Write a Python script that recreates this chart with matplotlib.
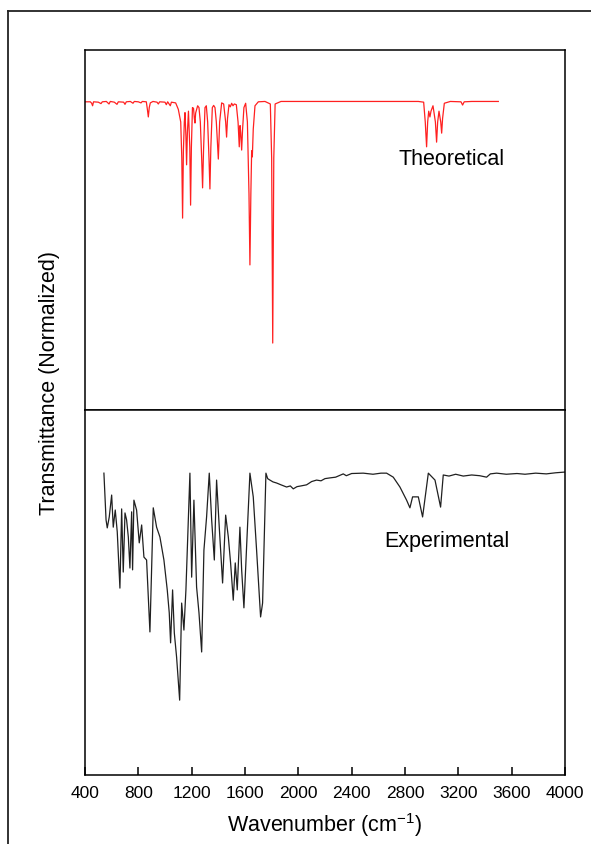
import matplotlib.pyplot as plt
from matplotlib.lines import Line2D

plt.rcParams['font.family'] = ['Liberation Sans', 'DejaVu Sans']

# Theoretical spectrum (wavenumber, normalized transmittance)
wn_theo = [400, 440, 450, 457, 464, 500, 520, 530, 560, 580, 590, 620, 640, 650,
           690, 700, 710, 740, 760, 770, 800, 820, 830, 860, 868, 875, 882, 890,
           910, 940, 950, 960, 1000, 1010, 1020, 1040, 1048, 1080, 1100, 1118,
           1126, 1132, 1138, 1145, 1150, 1157, 1162, 1168, 1176, 1186, 1192,
           1198, 1206, 1214, 1220, 1225, 1230, 1245, 1255, 1265, 1275, 1282,
           1289, 1300, 1310, 1320, 1330, 1337, 1344, 1355, 1365, 1375, 1385,
           1400, 1410, 1425, 1440, 1455, 1462, 1469, 1480, 1490, 1500, 1510,
           1520, 1535, 1548, 1557, 1563, 1568, 1575, 1582, 1592, 1605, 1618,
           1630, 1637, 1644, 1650, 1655, 1662, 1675, 1700, 1750, 1790, 1800,
           1808, 1816, 1826, 1870, 2900, 2940, 2952, 2962, 2970, 2978, 2987,
           2995, 3010, 3028, 3037, 3045, 3055, 3068, 3075, 3082, 3095, 3140,
           3220, 3232, 3244, 3300, 3500]
t_theo = [.856, .856, .852, .845, .856, .855, .851, .856, .857, .850, .857, .855,
          .849, .856, .855, .849, .856, .857, .852, .857, .856, .853, .857, .856,
          .835, .814, .840, .853, .857, .855, .850, .856, .855, .848, .856, .845,
          .855, .853, .835, .800, .700, .533, .720, .800, .826, .760, .681, .770,
          .830, .730, .569, .730, .840, .838, .810, .797, .825, .845, .840, .800,
          .700, .617, .720, .840, .845, .800, .700, .614, .730, .840, .846, .840,
          .800, .697, .800, .853, .850, .800, .758, .810, .848, .842, .852, .845,
          .850, .848, .800, .731, .790, .770, .722, .780, .840, .852, .800, .600,
          .403, .600, .720, .703, .780, .845, .856, .857, .850, .700, .186, .700,
          .850, .857, .857, .855, .800, .731, .800, .830, .814, .830, .845, .800,
          .744, .800, .830, .800, .769, .810, .852, .857, .856, .847, .856, .857,
          .857]

# Experimental spectrum
wn_exp = [542, 558, 567, 582, 600, 612, 627, 642, 662, 675, 687, 700, 712, 725,
          737, 750, 757, 767, 787, 807, 825, 842, 862, 887, 912, 937, 962, 992,
          1017, 1032, 1042, 1057, 1070, 1087, 1110, 1125, 1142, 1157, 1187, 1200,
          1217, 1237, 1255, 1275, 1292, 1312, 1332, 1350, 1370, 1387, 1407, 1432,
          1455, 1475, 1492, 1512, 1527, 1542, 1562, 1575, 1592, 1612, 1637, 1662,
          1687, 1717, 1732, 1757, 1770, 1787, 1810, 1837, 1870, 1912, 1940, 1962,
          1990, 2020, 2062, 2100, 2137, 2170, 2200, 2237, 2280, 2337, 2360, 2400,
          2487, 2560, 2620, 2662, 2712, 2762, 2812, 2837, 2857, 2900, 2932, 2975,
          3025, 3067, 3087, 3130, 3180, 3237, 3300, 3360, 3412, 3440, 3487, 3560,
          3640, 3700, 3780, 3860, 3930, 4000]
t_exp = [.827, .699, .677, .707, .767, .679, .726, .666, .512, .729, .556, .718,
         .699, .652, .567, .721, .562, .753, .726, .636, .685, .597, .589, .392,
         .732, .679, .652, .589, .507, .444, .362, .507, .389, .323, .205, .471,
         .397, .507, .827, .542, .753, .515, .444, .337, .616, .707, .827, .699,
         .589, .808, .679, .526, .712, .652, .581, .479, .581, .507, .679, .562,
         .458, .625, .827, .762, .616, .433, .471, .827, .812, .808, .803, .800,
         .795, .789, .792, .784, .790, .792, .795, .804, .808, .806, .812, .814,
         .816, .825, .820, .826, .827, .824, .827, .827, .816, .789, .753, .732,
         .762, .762, .707, .827, .808, .734, .822, .819, .824, .819, .822, .820,
         .816, .825, .827, .824, .826, .824, .827, .825, .828, .830]

fig = plt.figure(figsize=(5.91, 8.44), dpi=100)
ax1 = fig.add_axes([0.1438, 0.5142, 0.8122, 0.4266])
ax2 = fig.add_axes([0.1438, 0.0818, 0.8122, 0.4324], sharex=ax1)

ax1.plot(wn_theo, t_theo, color='#ff2020', lw=0.9)
ax2.plot(wn_exp, t_exp, color='#202020', lw=0.9)

for ax in (ax1, ax2):
    ax.set_ylim(0, 1)
    ax.set_yticks([])
    for s in ax.spines.values():
        s.set_linewidth(1.1)
ax1.set_xlim(400, 4000)
ax1.tick_params(axis='x', bottom=False, labelbottom=False)
ax2.set_xticks(range(400, 4001, 400))
ax2.tick_params(axis='x', direction='in', length=6, width=1.1, labelsize=12.5, pad=8)

ax1.text(3150, 0.695, 'Theoretical', fontsize=15.5, ha='center', va='center')
ax2.text(3115, 0.641, 'Experimental', fontsize=15.5, ha='center', va='center')

ax2.set_xlabel('Wavenumber (cm$^{\\mathregular{-1}}$)', fontsize=15.5, labelpad=7)
fig.text(0.083, 1 - 383 / 844, 'Transmittance (Normalized)', fontsize=15.5,
         rotation=90, ha='center', va='center')

# outer frame (cut off at right and bottom)
fig.add_artist(Line2D([8 / 591, 8 / 591], [0, 1 - 11 / 844], color='#222222', lw=1.3))
fig.add_artist(Line2D([8 / 591, 1], [1 - 11 / 844, 1 - 11 / 844], color='#222222', lw=1.3))

fig.savefig('out.png', dpi=100)
